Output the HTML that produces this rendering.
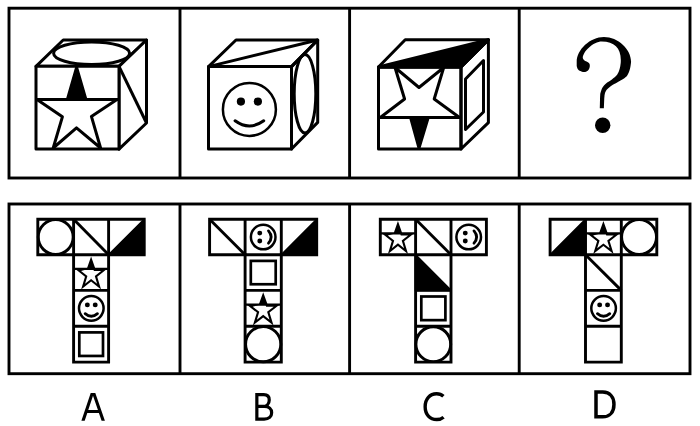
<!DOCTYPE html>
<html><head><meta charset="utf-8"><style>
html,body{margin:0;padding:0;background:#fff;width:700px;height:426px;overflow:hidden;}
svg{display:block;font-family:"Liberation Sans",sans-serif;}
</style></head><body><svg width="700" height="426" viewBox="0 0 700 426"><rect x="9" y="8.2" width="681" height="169.8" fill="none" stroke="#000" stroke-width="2.9"/><line x1="180" y1="8.2" x2="180" y2="178" stroke="#000" stroke-width="2.9"/><line x1="349.6" y1="8.2" x2="349.6" y2="178" stroke="#000" stroke-width="2.9"/><line x1="519.2" y1="8.2" x2="519.2" y2="178" stroke="#000" stroke-width="2.9"/><rect x="9" y="204" width="681" height="169.7" fill="none" stroke="#000" stroke-width="2.9"/><line x1="180" y1="204" x2="180" y2="373.7" stroke="#000" stroke-width="2.9"/><line x1="349.6" y1="204" x2="349.6" y2="373.7" stroke="#000" stroke-width="2.9"/><line x1="519.2" y1="204" x2="519.2" y2="373.7" stroke="#000" stroke-width="2.9"/><polygon points="36,66.3 63.2,40 146.5,40 119,66.3" fill="#fff" stroke="#000" stroke-width="3.0" stroke-linejoin="round"/><polygon points="119,66.3 146.5,40 146.5,123 119,149.1" fill="#fff" stroke="#000" stroke-width="3.0" stroke-linejoin="round"/><ellipse cx="91.6" cy="53.3" rx="38" ry="11.3" fill="none" stroke="#000" stroke-width="3.0"/><line x1="119" y1="66.3" x2="146.5" y2="123" stroke="#000" stroke-width="3.0"/><polygon points="36,66.3 119,66.3 119,149.1 36,149.1" fill="#fff" stroke="#000" stroke-width="3.0" stroke-linejoin="round"/><line x1="36" y1="99.5" x2="119" y2="99.5" stroke="#000" stroke-width="3.0"/><polygon points="76.6,67.4 85.9,99.5 117,99.5 91.4,116.4 100.6,148 76.5,127.9 53.2,148 62.4,116.8 37,99.5 67.4,99.5" fill="none" stroke="#000" stroke-width="3.0" stroke-linejoin="round"/><polygon points="76.6,67.4 85.9,99.5 67.4,99.5" fill="#000" stroke="#000" stroke-width="1" /><polygon points="208.5,66.6 236,40 317.7,40 291.5,66.6" fill="none" stroke="#000" stroke-width="3.0" stroke-linejoin="round"/><polygon points="291.5,66.6 317.7,40 317.7,122.4 291.5,149" fill="none" stroke="#000" stroke-width="3.0" stroke-linejoin="round"/><line x1="208.5" y1="66.6" x2="317.7" y2="40" stroke="#000" stroke-width="3.0"/><ellipse cx="305" cy="93.8" rx="10.8" ry="39.2" fill="none" stroke="#000" stroke-width="3.0"/><polygon points="208.5,66.6 291.5,66.6 291.5,149 208.5,149" fill="none" stroke="#000" stroke-width="3.0" stroke-linejoin="round"/><g transform="translate(249.4,109.4) rotate(0)"><circle r="26.5" fill="none" stroke="#000" stroke-width="2.5"/><circle cx="-8.48" cy="-7.82" r="4.11" fill="#000"/><circle cx="8.48" cy="-7.82" r="4.11" fill="#000"/><path d="M-14.31,11.39 Q0,21.73 14.31,11.39" fill="none" stroke="#000" stroke-width="3.1" stroke-linecap="round"/></g><polygon points="378.5,67 405.2,39.8 488.4,39.8 461,67" fill="none" stroke="#000" stroke-width="3.0" stroke-linejoin="round"/><polygon points="378.5,67 488.4,39.8 461,67" fill="#000" stroke="#000" stroke-width="3.0" stroke-linejoin="round"/><polygon points="461,67 488.4,39.8 488.4,122.7 461,149" fill="none" stroke="#000" stroke-width="3.0" stroke-linejoin="round"/><polygon points="465.5,79 483.5,60.5 483.5,112 465.5,129.5" fill="none" stroke="#000" stroke-width="3.0" stroke-linejoin="round"/><polygon points="378.5,67 461,67 461,149 378.5,149" fill="none" stroke="#000" stroke-width="3.0" stroke-linejoin="round"/><line x1="378.5" y1="117.5" x2="461" y2="117.5" stroke="#000" stroke-width="3.0"/><polygon points="380.3,117.5 404.6,99 395,67.5 419,87.5 443.7,67.5 434.2,99 459.5,117.5 428.2,117.5 419,148 410.6,117.5" fill="none" stroke="#000" stroke-width="3.0" stroke-linejoin="round"/><polygon points="410.6,117.5 428.2,117.5 419,148" fill="#000" stroke="#000" stroke-width="1"/><path d="M576.7,65.9 L576.7,62 C576.7,49.5 590.3,37 603.9,37 C618.04,37 631.1,49 631.1,62 C630.92,63.12 630.62,66.50 630.00,68.70 C629.38,70.90 628.53,73.48 627.40,75.20 C626.27,76.92 624.85,77.83 623.20,79.00 C621.55,80.17 619.53,81.05 617.50,82.20 C615.47,83.35 612.80,84.65 611.00,85.90 C609.20,87.15 607.72,88.43 606.70,89.70 C605.68,90.97 605.28,92.28 604.90,93.50 C604.52,94.72 604.52,95.92 604.40,97.00 C604.28,98.08 604.28,98.13 604.20,100.00 C604.12,101.87 603.95,106.83 603.90,108.20 L599.8,108.2 C599.83,106.83 599.93,102.20 600.00,100.00 C600.07,97.80 600.10,96.23 600.20,95.00 C600.30,93.77 600.22,93.87 600.60,92.60 C600.98,91.33 601.55,88.97 602.50,87.40 C603.45,85.83 604.73,84.53 606.30,83.20 C607.87,81.87 610.10,80.82 611.90,79.40 C613.70,77.98 615.82,76.42 617.10,74.70 C618.38,72.98 619.00,71.05 619.60,69.10 C620.20,67.15 620.50,64.52 620.70,63.00 C620.90,61.48 620.78,60.50 620.80,60.00 C620.8,47.98 614.15,41.5 601.8,41.5 C593.25,41.5 582.8,51.68 582.8,58 C583.03,58.37 583.18,59.37 584.20,60.20 C585.22,61.03 587.97,61.98 588.90,63.00 C589.83,64.02 589.88,65.12 589.80,66.30 C589.72,67.48 589.18,69.15 588.40,70.10 C587.62,71.05 586.27,71.77 585.10,72.00 C583.93,72.23 582.57,71.90 581.40,71.50 C580.23,71.10 578.88,70.53 578.10,69.60 C577.32,68.67 576.93,66.52 576.70,65.90 Z" fill="#000"/><circle cx="602.7" cy="125.2" r="7.7" fill="#000"/><circle cx="55.7" cy="237.05" r="17.45" fill="none" stroke="#000" stroke-width="2.9"/><line x1="73.6" y1="219.3" x2="108.6" y2="254.8" stroke="#000" stroke-width="2.9"/><polygon points="144.2,219.3 144.2,254.8 108.6,254.8" fill="#000" stroke="#000" stroke-width="1.8" stroke-linejoin="round"/><polygon points="91.1,256.58 95.37,268.86 107.2,268.86 97.22,276.77 101.07,289.51 91.1,281.61 81.12,289.51 84.98,276.77 75,268.86 86.83,268.86" fill="#000"/><polygon points="93.15,268.86 93.88,270.96 101.17,270.96 94.79,276.01 97.12,283.7 91.1,278.93 85.08,283.7 87.41,276.01 81.03,270.96 89.05,268.86" fill="#fff"/><line x1="73.6" y1="268.86" x2="108.6" y2="268.86" stroke="#000" stroke-width="2.2"/><g transform="translate(91.3,308.35) rotate(0)"><circle r="12.3" fill="none" stroke="#000" stroke-width="2.5"/><circle cx="-3.94" cy="-3.44" r="2.46" fill="#000"/><circle cx="3.94" cy="-3.44" r="2.46" fill="#000"/><path d="M-6.15,5.29 Q0,10.58 6.15,5.29" fill="none" stroke="#000" stroke-width="2.8" stroke-linecap="round"/></g><rect x="79.3" y="332.4" width="23.7" height="23.55" fill="none" stroke="#000" stroke-width="2.7"/><path d="M37.8,219.3 H144.2 V254.8 H108.6 V362.1 H73.6 V254.8 H37.8 Z" fill="none" stroke="#000" stroke-width="2.9"/><line x1="73.6" y1="219.3" x2="73.6" y2="254.8" stroke="#000" stroke-width="2.9"/><line x1="108.6" y1="219.3" x2="108.6" y2="254.8" stroke="#000" stroke-width="2.9"/><line x1="73.6" y1="254.8" x2="108.6" y2="254.8" stroke="#000" stroke-width="2.9"/><line x1="73.6" y1="290.4" x2="108.6" y2="290.4" stroke="#000" stroke-width="2.9"/><line x1="73.6" y1="326.3" x2="108.6" y2="326.3" stroke="#000" stroke-width="2.9"/><line x1="209.6" y1="219.3" x2="245.1" y2="254.8" stroke="#000" stroke-width="2.9"/><g transform="translate(263.2,237.05) rotate(-90)"><circle r="12.3" fill="none" stroke="#000" stroke-width="2.5"/><circle cx="-3.94" cy="-3.44" r="2.46" fill="#000"/><circle cx="3.94" cy="-3.44" r="2.46" fill="#000"/><path d="M-6.15,5.29 Q0,10.58 6.15,5.29" fill="none" stroke="#000" stroke-width="2.8" stroke-linecap="round"/></g><polygon points="316.7,219.3 316.7,254.8 281.3,254.8" fill="#000" stroke="#000" stroke-width="1.8" stroke-linejoin="round"/><rect x="250.8" y="260.9" width="24.9" height="23.35" fill="none" stroke="#000" stroke-width="2.7"/><polygon points="263.2,292.19 267.62,304.58 279.85,304.58 269.53,312.55 273.52,325.4 263.2,317.44 252.88,325.4 256.87,312.55 246.55,304.58 258.78,304.58" fill="#000"/><polygon points="265.39,304.58 266.14,306.68 273.7,306.68 267.09,311.78 269.54,319.68 263.2,314.78 256.86,319.68 259.31,311.78 252.7,306.68 261.01,304.58" fill="#fff"/><line x1="245.1" y1="304.58" x2="281.3" y2="304.58" stroke="#000" stroke-width="2.2"/><circle cx="263.2" cy="344.2" r="17.6" fill="none" stroke="#000" stroke-width="2.9"/><path d="M209.6,219.3 H316.7 V254.8 H281.3 V362.1 H245.1 V254.8 H209.6 Z" fill="none" stroke="#000" stroke-width="2.9"/><line x1="245.1" y1="219.3" x2="245.1" y2="254.8" stroke="#000" stroke-width="2.9"/><line x1="281.3" y1="219.3" x2="281.3" y2="254.8" stroke="#000" stroke-width="2.9"/><line x1="245.1" y1="254.8" x2="281.3" y2="254.8" stroke="#000" stroke-width="2.9"/><line x1="245.1" y1="290.4" x2="281.3" y2="290.4" stroke="#000" stroke-width="2.9"/><line x1="245.1" y1="326.3" x2="281.3" y2="326.3" stroke="#000" stroke-width="2.9"/><polygon points="397.95,221.08 402.26,233.32 414.19,233.32 404.12,241.21 408.01,253.91 397.95,246.04 387.89,253.91 391.78,241.21 381.71,233.32 393.64,233.32" fill="#000"/><polygon points="400.03,233.32 400.77,235.42 408.1,235.42 401.69,240.44 404.05,248.14 397.95,243.37 391.85,248.14 394.21,240.44 387.8,235.42 395.87,233.32" fill="#fff"/><line x1="380.3" y1="233.32" x2="415.6" y2="233.32" stroke="#000" stroke-width="2.2"/><line x1="415.6" y1="219.3" x2="451" y2="254.8" stroke="#000" stroke-width="2.9"/><g transform="translate(468.7,237.05) rotate(-90)"><circle r="12.3" fill="none" stroke="#000" stroke-width="2.5"/><circle cx="-3.94" cy="-3.44" r="2.46" fill="#000"/><circle cx="3.94" cy="-3.44" r="2.46" fill="#000"/><path d="M-6.15,5.29 Q0,10.58 6.15,5.29" fill="none" stroke="#000" stroke-width="2.8" stroke-linecap="round"/></g><polygon points="415.6,254.8 451,290.4 415.6,290.4" fill="#000" stroke="#000" stroke-width="1.8" stroke-linejoin="round"/><rect x="421.3" y="296.5" width="24.1" height="23.65" fill="none" stroke="#000" stroke-width="2.7"/><circle cx="433.3" cy="344.2" r="17.4" fill="none" stroke="#000" stroke-width="2.9"/><path d="M380.3,219.3 H486.4 V254.8 H451 V362.1 H415.6 V254.8 H380.3 Z" fill="none" stroke="#000" stroke-width="2.9"/><line x1="415.6" y1="219.3" x2="415.6" y2="254.8" stroke="#000" stroke-width="2.9"/><line x1="451" y1="219.3" x2="451" y2="254.8" stroke="#000" stroke-width="2.9"/><line x1="415.6" y1="254.8" x2="451" y2="254.8" stroke="#000" stroke-width="2.9"/><line x1="415.6" y1="290.4" x2="451" y2="290.4" stroke="#000" stroke-width="2.9"/><line x1="415.6" y1="326.3" x2="451" y2="326.3" stroke="#000" stroke-width="2.9"/><polygon points="585.5,219.3 585.5,254.8 550.1,254.8" fill="#000" stroke="#000" stroke-width="1.8" stroke-linejoin="round"/><polygon points="603.4,221.08 607.77,233.32 619.87,233.32 609.66,241.21 613.6,253.91 603.4,246.04 593.2,253.91 597.14,241.21 586.93,233.32 599.03,233.32" fill="#000"/><polygon points="605.54,233.32 606.29,235.42 613.71,235.42 607.22,240.44 609.63,248.19 603.4,243.38 597.17,248.19 599.58,240.44 593.09,235.42 601.26,233.32" fill="#fff"/><line x1="585.5" y1="233.32" x2="621.3" y2="233.32" stroke="#000" stroke-width="2.2"/><circle cx="639.05" cy="237.05" r="17.45" fill="none" stroke="#000" stroke-width="2.9"/><line x1="585.5" y1="254.8" x2="621.3" y2="290.4" stroke="#000" stroke-width="2.9"/><g transform="translate(603.6,308.35) rotate(0)"><circle r="12.3" fill="none" stroke="#000" stroke-width="2.5"/><circle cx="-3.94" cy="-3.44" r="2.46" fill="#000"/><circle cx="3.94" cy="-3.44" r="2.46" fill="#000"/><path d="M-6.15,5.29 Q0,10.58 6.15,5.29" fill="none" stroke="#000" stroke-width="2.8" stroke-linecap="round"/></g><path d="M550.1,219.3 H656.8 V254.8 H621.3 V362.1 H585.5 V254.8 H550.1 Z" fill="none" stroke="#000" stroke-width="2.9"/><line x1="585.5" y1="219.3" x2="585.5" y2="254.8" stroke="#000" stroke-width="2.9"/><line x1="621.3" y1="219.3" x2="621.3" y2="254.8" stroke="#000" stroke-width="2.9"/><line x1="585.5" y1="254.8" x2="621.3" y2="254.8" stroke="#000" stroke-width="2.9"/><line x1="585.5" y1="290.4" x2="621.3" y2="290.4" stroke="#000" stroke-width="2.9"/><line x1="585.5" y1="326.3" x2="621.3" y2="326.3" stroke="#000" stroke-width="2.9"/><path fill-rule="evenodd" fill="#000" d="M81.4,420.7 L90.7,392.9 L95.3,392.9 L104.9,420.7 L101.6,420.7 L98.9,412.9 L87.3,412.9 L84.7,420.7 Z M88.25,410.1 L97.94,410.1 L93,395.84 Z"/><path fill="none" stroke="#000" stroke-width="3.2" stroke-linejoin="miter" d="M256.85,419.05 V394.55 H263.8 C267.4,394.55 269.25,396.6 269.25,399.9 C269.25,403.6 266.6,406.45 262.8,406.45 H256.85 M262.8,406.45 H264.5 C268.9,406.45 271.65,409.1 271.65,412.7 C271.65,416.6 268.9,419.05 264.2,419.05 H255.25"/><path fill="none" stroke="#000" stroke-width="3.4" d="M443.4,396.3 C441.6,394.6 439.3,393.8 436.6,393.8 C429.8,393.8 425.15,399 425.15,406.7 C425.15,414.5 429.9,419.55 436.8,419.55 C439.6,419.55 441.8,418.7 443.6,417.2"/><path fill="none" stroke="#000" stroke-width="3.5" stroke-linejoin="miter" d="M596,392.1 H602.8 C609.9,392.1 613.95,397.2 613.95,404.4 C613.95,411.9 609.8,416.85 602.6,416.85 H596 Z"/></svg></body></html>
